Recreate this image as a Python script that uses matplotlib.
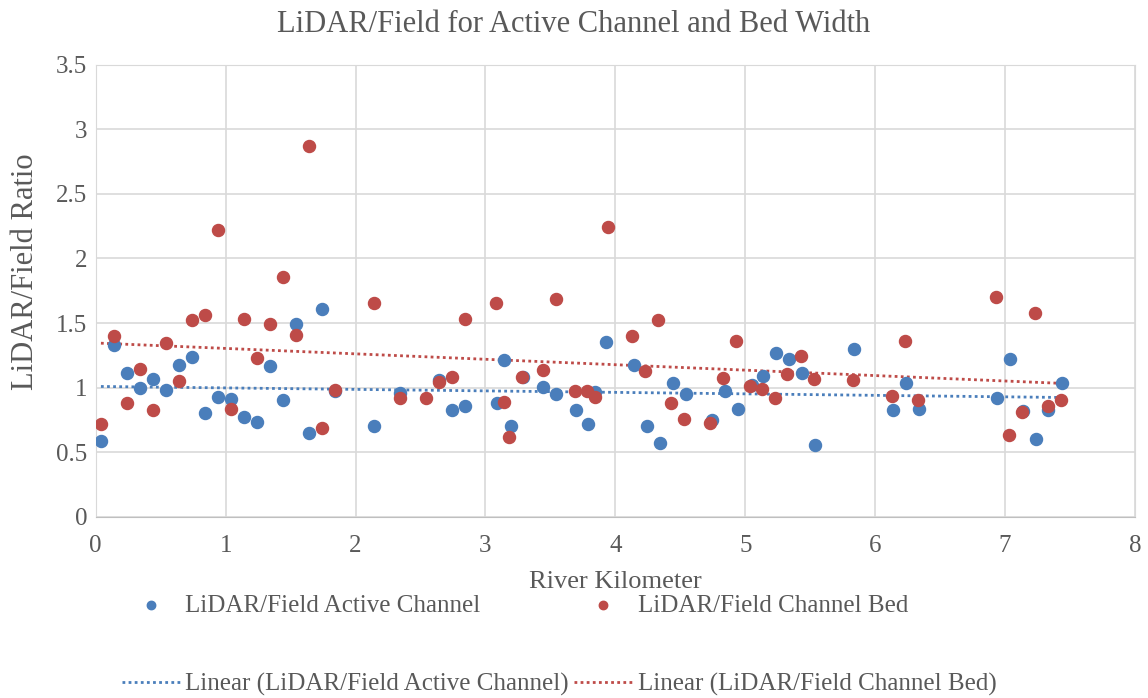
import numpy as np
import matplotlib
matplotlib.use("Agg")
import matplotlib.pyplot as plt

plt.rcParams['font.family'] = ['Liberation Serif', 'DejaVu Serif']

# --- data ---
active_km = [0.04, 0.14, 0.24, 0.34, 0.44, 0.54, 0.64, 0.74, 0.84, 0.94,
             1.04, 1.14, 1.24, 1.34, 1.44, 1.54, 1.64, 1.74, 1.84, 2.14,
             2.34, 2.64, 2.74, 2.84, 3.09, 3.14, 3.20, 3.29, 3.44, 3.54,
             3.70, 3.79, 3.84, 3.93, 4.14, 4.24, 4.34, 4.44, 4.54, 4.74,
             4.84, 4.94, 5.05, 5.14, 5.24, 5.34, 5.44, 5.54, 5.84, 6.14,
             6.24, 6.34, 6.94, 7.04, 7.14, 7.24, 7.33, 7.44]
active_ratio = [0.59, 1.33, 1.11, 1.00, 1.07, 0.98, 1.175, 1.24, 0.805, 0.925,
                0.915, 0.77, 0.735, 1.17, 0.90, 1.495, 0.645, 1.61, 0.97, 0.70,
                0.955, 1.06, 0.83, 0.855, 0.88, 1.21, 0.70, 1.085, 1.007, 0.948,
                0.826, 0.716, 0.968, 1.356, 1.175, 0.703, 0.568, 1.036, 0.948, 0.749,
                0.975, 0.837, 1.02, 1.092, 1.27, 1.219, 1.11, 0.555, 1.296, 0.824,
                1.038, 0.837, 0.917, 1.22, 0.82, 0.60, 0.83, 1.037]

bed_km = [0.04, 0.14, 0.24, 0.34, 0.44, 0.54, 0.64, 0.74, 0.84, 0.94,
          1.04, 1.14, 1.24, 1.34, 1.44, 1.54, 1.64, 1.74, 1.84, 2.14,
          2.34, 2.54, 2.64, 2.74, 2.84, 3.08, 3.14, 3.18, 3.28, 3.44,
          3.54, 3.69, 3.78, 3.84, 3.94, 4.13, 4.23, 4.33, 4.43, 4.53,
          4.73, 4.83, 4.93, 5.04, 5.13, 5.23, 5.32, 5.43, 5.53, 5.83,
          6.13, 6.23, 6.33, 6.93, 7.03, 7.13, 7.23, 7.33, 7.43]
bed_ratio = [0.72, 1.40, 0.883, 1.142, 0.83, 1.343, 1.05, 1.52, 1.562, 2.223,
             0.837, 1.531, 1.229, 1.495, 1.854, 1.405, 2.874, 0.69, 0.98, 1.653,
             0.917, 0.917, 1.04, 1.085, 1.531, 1.653, 0.89, 0.62, 1.085, 1.136,
             1.686, 0.973, 0.973, 0.925, 2.246, 1.397, 1.13, 1.521, 0.883, 0.757,
             0.723, 1.072, 1.363, 1.015, 0.99, 0.917, 1.105, 1.245, 1.063, 1.059,
             0.937, 1.361, 0.904, 1.70, 0.633, 0.813, 1.575, 0.857, 0.90]

blue = '#4a7ebb'
red = '#be4b48'
grey = '#595959'

fig = plt.figure(figsize=(11.48, 6.98), dpi=100)
ax = fig.add_axes([0.0834, 0.2597, 0.9053, 0.6476])

ax.scatter(active_km, active_ratio, s=75, color=blue, zorder=3,
           label='LiDAR/Field Active Channel')
ax.scatter(bed_km, bed_ratio, s=75, color=red, zorder=3,
           label='LiDAR/Field Channel Bed')

# linear trendlines
for xs, ys, c, name in [(active_km, active_ratio, blue, 'LiDAR/Field Active Channel'),
                        (bed_km, bed_ratio, red, 'LiDAR/Field Channel Bed')]:
    xs = np.array(xs)
    k, b = np.polyfit(xs, ys, 1)
    xx = np.array([xs.min(), xs.max()])
    ax.plot(xx, k * xx + b, linestyle=(0, (1, 1.2)), linewidth=2, color=c,
            zorder=2, label='Linear (%s)' % name)

ax.set_xlim(0, 8)
ax.set_ylim(0, 3.5)
ax.set_xticks(np.arange(0, 9, 1))
ax.set_yticks(np.arange(0, 3.51, 0.5))
ax.set_yticklabels(['0', '0.5', '1', '1.5', '2', '2.5', '3', '3.5'])
ax.grid(True, color='#d9d9d9', linewidth=1.2)
ax.set_axisbelow(True)
for s in ax.spines.values():
    s.set_color('#d9d9d9')
ax.spines['bottom'].set_color('#bfbfbf')
ax.tick_params(length=0, labelsize=18, colors=grey)
ax.tick_params(axis='y', pad=6)
ax.tick_params(axis='x', pad=13)

fig.text(0.5, 1 - 24 / 698, 'LiDAR/Field for Active Channel and Bed Width',
         fontsize=22, color=grey, ha='center', va='center')
ax.set_xlabel('River Kilometer', fontsize=19, color=grey)
ax.xaxis.set_label_coords(0.5, (517 - 582) / 452)
ax.xaxis.label.set_va('center')
ax.set_ylabel('LiDAR/Field Ratio', fontsize=22, color=grey)
ax.yaxis.set_label_coords(-(96 - 26) / 1039, (517 - 272) / 452)
ax.yaxis.label.set_va('center')

h, l = ax.get_legend_handles_labels()
order = [0, 2, 1, 3]
leg = fig.legend([h[i] for i in order], [l[i] for i in order], ncol=2,
                 loc='center', bbox_to_anchor=(0.487, 1 - 645 / 698), frameon=False,
                 fontsize=18, handlelength=2.35, columnspacing=0.2,
                 handletextpad=0.2, labelspacing=2.25, markerscale=0.7,
                 borderpad=0)
for t in leg.get_texts():
    t.set_color(grey)

fig.savefig('out.png', dpi=100)
